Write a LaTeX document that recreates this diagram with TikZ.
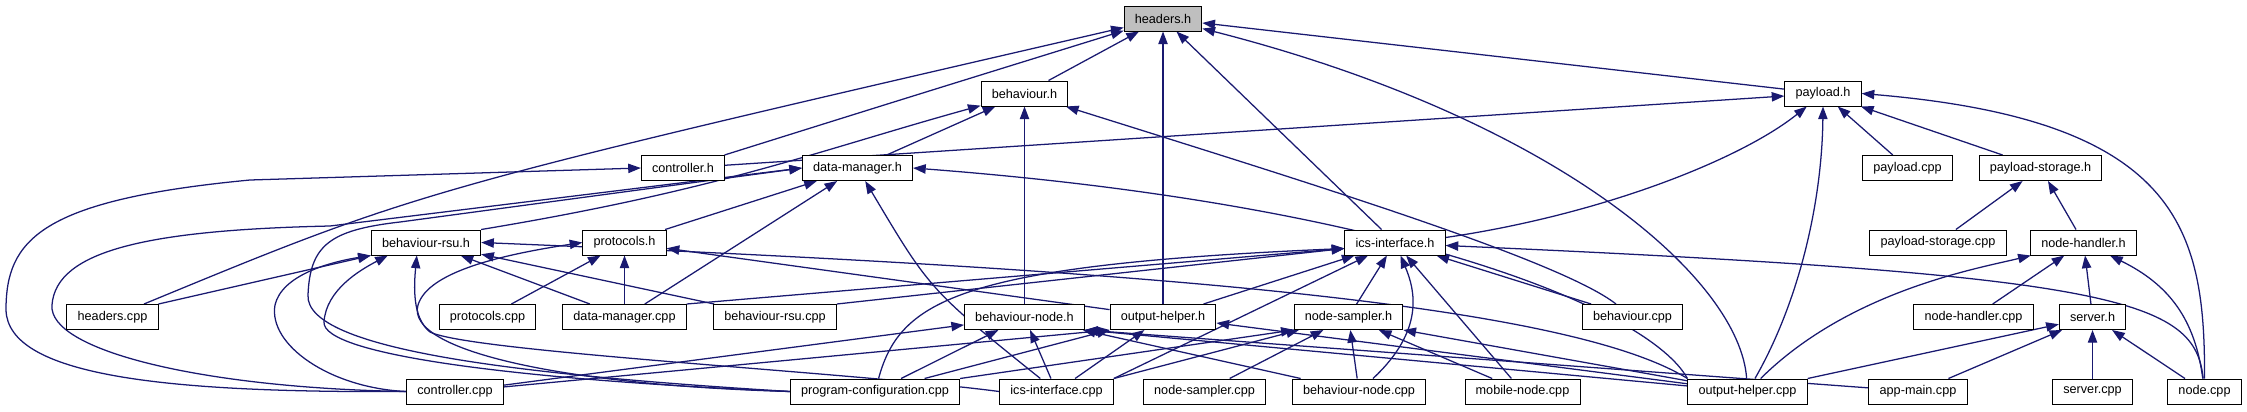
\documentclass[tikz,border=0pt]{standalone}
\usepackage{fontspec}
\setmainfont{Liberation Sans}
\usetikzlibrary{arrows.meta, calc, backgrounds}
\definecolor{depblue}{RGB}{25,25,112}
\definecolor{curgray}{RGB}{191,191,191}

\begin{document}
\begin{tikzpicture}[x=0.75pt, y=-0.75pt,
    file/.style={draw=black, fill=white, line width=0.75pt, minimum height=18.75pt,
        inner xsep=8pt, inner ysep=0pt, font=\fontsize{9.5}{11}\selectfont},
    dep/.style={depblue, line width=0.95pt, -{Triangle[length=9.5pt, width=7pt]}}]
    \useasboundingbox (0,0) rectangle (2247,411);

    % The file itself
    \node[file, fill=curgray] (hdrh) at (1163,18.5) {headers.h};

    % Second row
    \node[file] (behh) at (1024.5,93.5) {behaviour.h};
    \node[file] (payh) at (1823,93.5) {payload.h};

    % Third row
    \node[file] (ctrlh) at (683,168) {controller.h};
    \node[file] (dmh) at (857.5,168) {data-manager.h};
    \node[file] (payc) at (1907.5,168) {payload.cpp};
    \node[file] (paysh) at (2040.5,168) {payload-storage.h};

    % Fourth row
    \node[file] (rsuh) at (426,242.5) {behaviour-rsu.h};
    \node[file] (proth) at (624.5,242.5) {protocols.h};
    \node[file] (icsh) at (1395,242.5) {ics-interface.h};
    \node[file] (payscpp) at (1938,242.5) {payload-storage.cpp};
    \node[file] (nhh) at (2083.5,242.5) {node-handler.h};

    % Fifth row
    \node[file] (hdrc) at (112.5,317) {headers.cpp};
    \node[file] (protc) at (487.5,317) {protocols.cpp};
    \node[file] (dmc) at (624.5,317) {data-manager.cpp};
    \node[file] (rsuc) at (775,317) {behaviour-rsu.cpp};
    \node[file] (bnodeh) at (1024.5,317) {behaviour-node.h};
    \node[file] (outh) at (1163,317) {output-helper.h};
    \node[file] (nsh) at (1348.5,317) {node-sampler.h};
    \node[file] (behc) at (1632.5,317) {behaviour.cpp};
    \node[file] (nhc) at (1973.5,317) {node-handler.cpp};
    \node[file] (srvh) at (2092.5,317) {server.h};

    % Bottom row
    \node[file] (ctrlc) at (455,391.5) {controller.cpp};
    \node[file] (progc) at (875,391.5) {program-configuration.cpp};
    \node[file] (icsc) at (1056.5,391.5) {ics-interface.cpp};
    \node[file] (nsc) at (1204.5,391.5) {node-sampler.cpp};
    \node[file] (bnodec) at (1359,391.5) {behaviour-node.cpp};
    \node[file] (mobc) at (1522.5,391.5) {mobile-node.cpp};
    \node[file] (outc) at (1747.5,391.5) {output-helper.cpp};
    \node[file] (appc) at (1918,391.5) {app-main.cpp};
    \node[file] (srvc) at (2092.5,391.5) {server.cpp};
    \node[file] (nodec) at (2204.5,391.5) {node.cpp};

    \begin{scope}[on background layer]
    % into headers.h
    \draw[dep] (hdrc) .. controls (420,190) .. (hdrh);
    \draw[dep] (ctrlh) .. controls (900,100) .. (hdrh);
    \draw[dep] (behh) -- (hdrh);
    \draw[dep] (outh) -- (hdrh);
    \draw[dep] (icsh) -- (hdrh);
    \draw[dep] (payh) -- (hdrh);
    \draw[dep] (outc) .. controls (1740,280) and (1560,120) .. (hdrh);

    % into behaviour.h
    \draw[dep] (rsuh.north east) .. controls (720,190) and (820,150) .. (behh);
    \draw[dep] (dmh) -- (behh);
    \draw[dep] (bnodeh) -- (behh);
    \draw[dep] (behc) .. controls (1560,260) and (1300,180) .. (behh);

    % into controller.h and data-manager.h
    \draw[dep] (ctrlc.west) .. controls (160,393) and (8,375) .. (6,310)
        .. controls (6,240) and (40,200) .. (250,180) -- (ctrlh.west);
    \draw[dep] (ctrlc.west) .. controls (200,388) and (48,350) .. (52,305)
        .. controls (56,250) and (150,230) .. (330,226) -- (dmh.west);
    \draw[dep] (progc.west) .. controls (520,375) and (305,350) .. (308,295)
        .. controls (310,245) and (330,230) .. (400,222) -- (dmh.west);
    \draw[dep] (proth) -- (dmh);
    \draw[dep] (dmc) -- (dmh);
    \draw[dep] (icsc) .. controls (930,290) .. (dmh);
    \draw[dep] (outc.north west) .. controls (1650,310) and (1400,205) .. (dmh.east);

    % into behaviour-rsu.h
    \draw[dep] (hdrc.north east) -- (rsuh.south west);
    \draw[dep] (ctrlc.west) .. controls (330,388) and (268,345) .. (275,305)
        .. controls (282,275) and (330,262) .. (rsuh.south west);
    \draw[dep] (progc.west) .. controls (520,380) and (322,355) .. (324,322)
        .. controls (326,290) and (360,270) .. ($(rsuh.south west)+(17,0)$);
    \draw[dep] (icsc.west) .. controls (850,372) and (470,352) .. (430,332)
        .. controls (412,318) and (414,285) .. ($(rsuh.south west)+(46,0)$);
    \draw[dep] (dmc) -- (rsuh);
    \draw[dep] (rsuc) -- (rsuh);
    \draw[dep] (outc.north west) .. controls (1560,300) and (1100,268) .. (rsuh.east);

    % into protocols.h
    \draw[dep] (progc.west) .. controls (560,385) and (405,350) .. (418,305)
        .. controls (428,272) and (500,255) .. (proth.west);
    \draw[dep] (protc) -- (proth);
    \draw[dep] (dmc) -- (proth);
    \draw[dep] (outh) -- (proth);

    % into payload.h
    \draw[dep] (ctrlh) -- (payh);
    \draw[dep] ($(icsh.east)+(0,-5)$) .. controls (1600,215) and (1740,160) .. (payh);
    \draw[dep] (outc) .. controls (1800,300) and (1822,200) .. (payh.south);
    \draw[dep] (payc) -- (payh);
    \draw[dep] (paysh) -- (payh);
    \draw[dep] (nodec) .. controls (2205,230) and (2180,120) .. (payh.east);

    % into payload-storage.h
    \draw[dep] (payscpp) -- (paysh);
    \draw[dep] (nhh) -- (paysh);

    % into ics-interface.h
    \draw[dep] (dmc.north east) -- ($(icsh.west)+(0,6)$);
    \draw[dep] (rsuc.north east) -- ($(icsh.west)+(0,6)$);
    \draw[dep] (progc) .. controls (900,300) and (960,265) .. ($(icsh.west)+(0,6)$);
    \draw[dep] (outh) -- (icsh);
    \draw[dep] (icsc.north east) -- (icsh);
    \draw[dep] (nsh) -- (icsh);
    \draw[dep] (bnodec) .. controls (1425,330) and (1415,290) .. (icsh);
    \draw[dep] (mobc) -- (icsh);
    \draw[dep] (behc) -- (icsh);
    \draw[dep] (nodec) .. controls (2195,300) and (2120,275) .. ($(icsh.east)+(0,3)$);

    % into node-handler.h and server.h
    \draw[dep] (outc) .. controls (1850,290) and (1980,268) .. (nhh);
    \draw[dep] (nhc) -- (nhh);
    \draw[dep] (srvh) -- (nhh);
    \draw[dep] (nodec) .. controls (2195,320) and (2170,285) .. (nhh);
    \draw[dep] (outc.north east) -- (srvh);
    \draw[dep] (appc) -- (srvh);
    \draw[dep] (srvc) -- (srvh);
    \draw[dep] (nodec) -- (srvh);

    % into behaviour-node.h
    \draw[dep] (ctrlc) -- (bnodeh);
    \draw[dep] (progc) -- (bnodeh);
    \draw[dep] (icsc) -- (bnodeh);
    \draw[dep] (bnodec) -- (bnodeh);
    \draw[dep] (appc) -- (bnodeh.south east);
    \draw[dep] (outc) -- (bnodeh.south east);

    % into output-helper.h
    \draw[dep] (ctrlc) -- (outh.south west);
    \draw[dep] (progc) -- (outh.south west);
    \draw[dep] (icsc) -- (outh);
    \draw[dep] (outc) -- ($(outh.east)+(0,6)$);

    % into node-sampler.h
    \draw[dep] (nsc) -- (nsh);
    \draw[dep] (bnodec) -- (nsh);
    \draw[dep] (mobc) -- (nsh);
    \draw[dep] (icsc.north east) -- (nsh);
    \draw[dep] (progc.north east) -- (nsh.south west);
    \draw[dep] (outc) -- (nsh.south east);
    \end{scope}
\end{tikzpicture}
\end{document}
